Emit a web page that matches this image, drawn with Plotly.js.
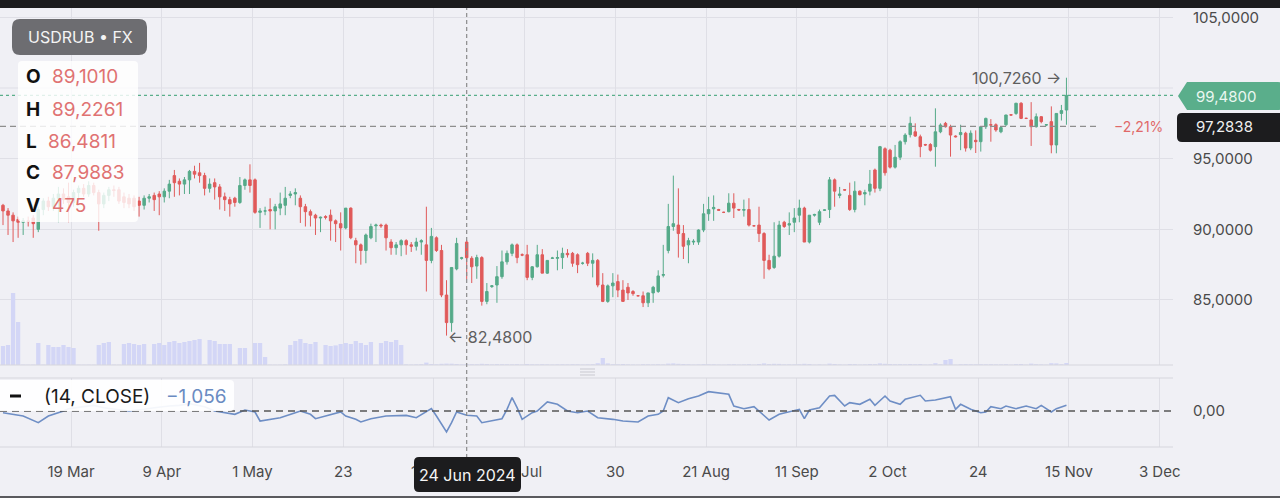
<!DOCTYPE html>
<html>
<head>
<meta charset="utf-8">
<script src="https://cdn.plot.ly/plotly-3.0.1.min.js"></script>
<style>
html,body{margin:0;padding:0;background:#f0f0f5;}
#chart{width:1280px;height:498px;}
</style>
</head>
<body>
<div id="chart"></div>
<script>
// ---- DATA ----
const open = [91.7,91.3,91.0,90.7,90.5,90.6,90.8,90.0,91.4,92.0,91.6,92.2,92.5,92.3,91.9,92.6,92.9,92.5,93.1,92.6,
91.8,92.4,92.8,92.8,92.3,92.2,92.2,92.0,91.7,92.2,92.4,92.5,92.3,92.7,93.8,93.4,93.2,93.5,94.1,94.0,
93.8,92.9,93.3,93.0,92.3,92.1,92.2,91.9,93.1,93.5,93.5,91.2,91.3,91.4,91.3,91.5,91.7,92.4,92.5,92.2,
91.6,91.25,91.0,90.8,90.9,91.0,90.6,90.4,90.1,91.5,89.2,88.9,88.5,89.4,90.25,90.3,90.3,89.1,88.7,88.9,
89.2,88.9,88.8,89.1,88.9,87.8,89.4,88.5,85.35,83.4,87.2,87.95,89.101,87.95,87.4,88.0,84.9,85.95,86.06,86.65,
87.7,88.3,88.9,88.2,88.2,86.6,87.35,88.2,86.9,87.95,87.95,88.0,88.3,88.3,88.2,87.6,88.3,87.6,87.8,86.06,
84.9,86.0,86.3,85.7,85.9,85.6,85.3,85.3,84.8,85.5,85.6,86.75,88.5,90.2,90.3,89.7,88.9,89.1,89.1,89.95,
91.1,91.45,91.4,91.2,91.25,91.85,91.4,91.35,91.4,90.25,90.3,89.7,87.8,87.3,88.1,90.5,90.3,90.5,91.0,91.5,
89.1,91.0,90.5,91.35,91.4,93.5,92.4,92.8,92.4,91.4,92.7,92.5,92.7,94.2,92.9,95.7,95.6,94.4,95.1,96.2,
96.7,96.9,96.55,96.0,96.0,95.85,96.9,97.5,97.26,96.6,96.7,96.8,95.75,96.3,96.2,97.26,97.4,97.4,96.9,97.4,
98.1,98.2,98.92,97.85,97.74,97.26,97.97,97.38,97.62,95.97,98.2,98.44];
const high = [91.8,91.5,91.2,90.9,90.8,90.9,91.0,91.6,92.2,92.3,92.5,93.0,92.9,93.3,92.8,93.1,93.2,93.4,93.3,92.8,
92.6,93.0,93.1,93.0,92.6,92.5,92.4,92.3,92.4,92.5,92.6,92.7,92.9,93.5,94.2,93.6,93.7,94.2,94.5,94.7,
94.0,93.6,93.6,93.2,92.6,92.3,92.3,93.7,93.6,94.6,93.6,91.5,91.6,92.2,91.8,92.6,93.0,92.7,92.9,92.4,
91.8,91.4,91.1,90.9,91.0,91.4,90.7,91.2,91.5,91.55,89.4,89.0,89.7,90.4,90.4,90.4,90.4,89.3,89.1,89.3,
89.3,89.1,89.4,89.3,91.6,90.1,89.5,88.9,86.4,87.3,89.4,88.05,89.2261,88.1,88.2,88.1,86.2,86.06,87.4,88.5,
88.5,89.0,89.0,88.3,88.9,87.4,88.9,88.6,87.8,88.05,88.5,88.7,88.6,88.4,88.3,87.7,88.4,88.3,87.9,86.9,
86.1,86.9,86.8,86.4,86.2,85.7,85.35,85.6,85.5,86.0,87.1,88.9,91.8,93.8,92.9,90.3,89.4,89.3,90.0,91.8,
92.3,92.4,91.45,91.25,92.55,92.55,91.45,92.1,92.2,90.3,91.6,89.8,88.2,90.5,90.6,90.6,91.2,91.5,92.1,91.6,
91.0,91.1,91.4,91.4,93.7,93.6,93.0,92.85,93.3,93.4,92.75,92.8,94.2,94.3,95.9,95.8,95.7,95.97,96.3,96.8,
97.97,97.5,96.7,96.05,96.1,98.56,97.5,97.6,97.4,96.65,97.4,96.9,97.0,97.0,97.3,97.9,97.8,97.5,97.3,98.1,
98.15,98.95,99.0,97.9,99.0,98.2,98.0,97.45,98.7,98.2,98.8,100.726];
const low = [90.3,89.6,89.1,89.4,89.6,90.2,89.4,89.8,91.0,91.3,91.3,90.5,91.8,90.5,91.6,92.2,92.3,92.3,92.4,89.9,
91.5,92.0,92.3,91.8,91.5,91.5,91.3,90.9,91.4,91.9,91.3,91.0,91.9,92.2,92.3,92.4,92.5,92.5,93.6,93.3,
92.4,92.6,92.1,91.4,91.3,90.9,91.6,91.8,92.8,92.6,91.1,90.1,91.0,90.0,90.0,91.0,91.0,92.2,91.7,90.45,
90.2,90.2,89.6,89.8,90.7,89.2,89.1,88.5,90.0,89.3,87.6,87.5,87.6,89.3,89.1,90.1,88.5,88.2,88.2,88.1,
88.2,88.4,88.5,88.2,85.6,87.6,88.4,85.2,82.48,82.75,87.1,87.85,86.4811,86.2,86.5,84.6,84.7,85.85,84.8,86.5,
87.5,88.1,87.6,88.1,86.4,86.4,87.3,86.9,86.85,87.9,87.1,87.2,88.0,87.35,86.9,87.5,87.4,86.6,85.9,84.85,
84.8,85.2,85.2,84.9,85.0,85.3,85.25,84.5,84.5,84.8,85.5,86.6,88.3,89.9,88.0,87.9,87.6,88.9,88.9,89.8,
90.6,90.6,91.3,91.15,91.2,90.8,91.3,90.9,90.2,90.2,89.1,86.5,87.1,87.2,88.0,90.1,89.6,89.8,90.5,89.1,
89.0,90.9,90.3,91.3,90.8,91.6,92.2,92.75,91.3,91.2,92.4,91.7,92.4,92.6,92.7,93.8,94.3,94.3,94.9,96.0,
96.5,96.55,95.1,95.9,95.5,94.43,96.8,97.2,95.14,96.5,95.6,95.5,95.6,95.4,95.5,97.1,96.2,96.9,96.8,97.3,
98.05,98.1,97.8,97.8,95.9,97.2,97.5,97.3,95.38,95.38,97.7,97.4];
const close = [91.3,91.0,90.6,90.5,90.6,90.55,90.4,91.4,92.0,91.6,92.2,92.5,92.1,91.9,92.6,92.9,92.5,93.1,92.6,91.8,
92.4,92.8,92.75,92.0,91.9,91.8,91.6,91.7,92.2,92.3,92.1,92.3,92.7,93.2,93.3,93.2,93.5,94.1,93.9,93.8,
92.9,93.2,93.0,92.3,92.1,91.8,91.9,93.1,93.5,93.1,91.2,91.3,91.3,91.3,91.6,91.8,92.2,92.5,92.6,91.6,
91.25,91.0,90.8,90.85,90.85,90.6,90.4,90.1,91.5,89.4,88.9,88.5,89.6,90.2,90.3,90.25,89.4,88.7,88.9,89.2,
88.9,88.8,89.1,89.2,87.8,89.5,88.5,85.35,83.4,87.3,89.0,87.98,87.9883,87.35,88.0,84.9,85.6,86.0,86.65,87.7,
88.3,88.9,88.0,88.18,86.6,87.35,88.2,86.9,87.8,87.97,88.0,88.3,88.2,87.6,87.5,87.6,87.6,87.8,86.06,84.9,
86.0,86.2,85.7,84.9,85.5,85.45,85.3,84.8,85.5,85.9,86.7,86.8,90.2,90.4,89.7,88.8,89.2,89.15,89.95,91.1,
91.4,91.55,91.35,91.2,91.85,91.5,91.37,91.4,90.3,90.25,89.7,87.8,87.2,88.1,90.3,90.2,90.4,90.8,91.5,89.1,
91.0,91.05,91.25,91.37,93.5,92.7,92.5,92.78,91.4,92.7,92.45,92.6,93.2,92.9,95.85,94.0,94.4,95.1,96.2,96.67,
97.5,96.6,95.85,95.97,95.6,96.9,97.38,97.26,96.67,96.55,96.85,95.75,96.8,96.2,97.26,97.85,97.38,97.03,97.2,98.09,
98.09,98.92,97.85,97.85,97.26,97.97,97.62,97.4,95.97,98.2,98.4,99.48];
const volume = [9500,10000,36000,21500,200,150,200,11000,200,10000,9000,9000,10000,9000,8500,200,150,200,150,10000,
11000,11500,200,150,10500,11000,10500,10000,10500,200,10500,11000,10000,11500,12000,11000,11500,12000,12500,13000,
300,12500,12000,10500,10500,10500,200,8500,8500,200,11000,11000,4000,200,150,200,300,10000,12000,13000,
11000,10500,11500,200,10000,9500,9800,10500,11000,10500,12000,11000,10000,11500,200,11000,12000,11500,12500,10000,
300,250,300,400,1200,500,350,600,700,650,500,300,475,400,350,600,500,300,450,400,
350,300,400,250,500,350,300,400,300,250,300,350,300,400,350,250,300,400,900,3500,
800,400,350,500,300,250,200,400,350,300,400,300,700,800,600,500,400,250,300,450,
400,350,250,200,350,400,250,300,450,200,500,800,500,600,550,300,350,300,400,600,
500,200,300,200,700,500,300,200,500,450,250,300,500,450,800,600,500,400,450,350,
500,400,500,250,300,900,400,2500,3000,200,400,450,400,350,400,350,400,300,300,400,
200,450,500,200,700,400,300,200,900,800,400,1000];
// oscillator (14, CLOSE): bar index and value
const oscBar = [0,2,4,7,9,12,13,16,18,20,23,25,28,30,33,35,37,40,42,45,46,48,50,51,53,55,58,59,61,62,64,67,68,70,71,73,76,78,80,82,84,85,86,88,89,90,92,94,95,97,99,100,101,102,103,105,106,108,110,112,114,116,118,121,123,126,128,130,131,132,134,136,138,140,142,144,145,147,149,151,152,154,156,158,159,160,162,164,165,167,168,170,172,173,175,176,178,179,182,183,185,188,189,190,192,194,195,196,198,199,201,203,205,206,208,209,211];
const oscVal = [-0.41,-0.81,-1.22,-2.85,-1.22,0,0.57,1.06,1.38,0.81,0.41,0,0.41,0.81,1.22,1.38,1.79,1.06,0,-0.57,-0.81,0.24,-0.24,-2.44,-2.03,-1.63,-0.41,0,-0.81,-1.87,-1.22,-0.24,-1.22,-2.03,-2.68,-1.87,-1.22,-1.06,-1.06,-1.63,-0.24,0.57,-1.22,-5.12,-2.85,-0.24,-1.056,-1.22,-2.85,-2.44,-1.87,0.41,3.25,0.81,-2.03,-0.41,0,2.2,1.63,0,-0.41,0,-1.63,-2.03,-2.44,-2.68,-1.22,-0.81,0,3.25,2.03,3.0,3.66,4.72,4.31,4.07,1.22,0.57,1.06,-1.22,-2.2,-0.81,-0.24,0.41,-1.87,0.24,0.81,3.66,3.82,1.22,2.03,1.63,2.85,1.38,3.66,2.44,1.63,2.85,3.82,2.44,2.68,3.5,0.41,1.63,0.41,-0.41,-0.24,1.06,0.57,1.22,0.57,1.22,0.57,1.38,-0.24,0.57,1.38];
const tickBars = [13.5,31.5,49.5,67.5,85.5,103.5,121.5,139.5,157.5,175.5,193.5,211.5,229.5];
const tickLabels = ['19 Mar','9 Apr','1 May','23','13 Jun','4 Jul','30','21 Aug','11 Sep','2 Oct','24','15 Nov','3 Dec'];
const priceTicks = [85,90,95,105];      // 100 label is hidden behind the last-price tag
const priceGridExtra = [100];
const lastPrice = 99.48, refPrice = 97.2838, changeText = '−2,21%';
const hiText = '100,7260', loText = '82,4800';
const lastText = '99,4800', refText = '97,2838';
const crossBar = 92, crossLabel = '24 Jun 2024';
const ohlcLetters = ['O','H','L','C','V'];
const ohlcValues = ['89,1010','89,2261','86,4811','87,9883','475'];
const indName = '(14, CLOSE)', indValue = '−1,056';
const symbolText = 'USDRUB • FX';

// ---- LAYOUT GEOMETRY ----
const W=1280,H=498,ML=0,MR=107,MT=8,MB=51;
const PW=W-ML-MR, PH=H-MT-MB;
const xmin=-0.595, xmax=232.14;
const fx = x => (x-ML)/PW;
const fy = y => (H-MB-y)/PH;
const fbar = b => (b-xmin)/(xmax-xmin);
function rr(x0,y0,x1,y1,r){
  const P=(x,y)=>fx(x).toFixed(5)+','+fy(y).toFixed(5);
  return 'M'+P(x0+r,y0)+' L'+P(x1-r,y0)+' Q'+P(x1,y0)+' '+P(x1,y0+r)+' L'+P(x1,y1-r)+' Q'+P(x1,y1)+' '+P(x1-r,y1)+
    ' L'+P(x0+r,y1)+' Q'+P(x0,y1)+' '+P(x0,y1-r)+' L'+P(x0,y0+r)+' Q'+P(x0,y0)+' '+P(x0+r,y0)+' Z';
}
function tag(x0,y0,x1,y1,r,tip){
  const P=(x,y)=>fx(x).toFixed(5)+','+fy(y).toFixed(5);
  const ym=(y0+y1)/2;
  return 'M'+P(tip,ym)+' L'+P(x0,y0)+' L'+P(x1-r,y0)+' Q'+P(x1,y0)+' '+P(x1,y0+r)+' L'+P(x1,y1-r)+' Q'+P(x1,y1)+' '+P(x1-r,y1)+' L'+P(x0,y1)+' Z';
}

const idx = open.map((_,i)=>i);
const GREEN='#55aa89', RED='#e05a5a', GRID='#dfdfe6';
const FONT='Inter, "Noto Sans", sans-serif';

const traces = [
  {type:'bar', x:idx, y:volume, xaxis:'x', yaxis:'y3', marker:{color:'#d3d6f6', line:{width:0}}, width:0.85, hoverinfo:'skip'},
  {type:'candlestick', x:idx, open:open, high:high, low:low, close:close, xaxis:'x', yaxis:'y',
   increasing:{line:{color:GREEN,width:1}, fillcolor:GREEN},
   decreasing:{line:{color:RED,width:1}, fillcolor:RED},
   whiskerwidth:0, hoverinfo:'skip'},
  {type:'scatter', mode:'lines', x:oscBar, y:oscVal, xaxis:'x2', yaxis:'y2', line:{color:'#6e8ec5', width:1.6}, hoverinfo:'skip'}
];

const shapes = [];
priceGridExtra.forEach(v=>shapes.push({type:'line', layer:'below', xref:'paper', yref:'y', x0:0, x1:1, y0:v, y1:v, line:{color:GRID, width:1}}));
shapes.push(
  // pane borders
  {type:'line', xref:'paper', yref:'paper', x0:0, x1:1, y0:fy(365), y1:fy(365), line:{color:'#d6d6dd', width:1}},
  {type:'line', xref:'paper', yref:'paper', x0:0, x1:1, y0:fy(378), y1:fy(378), line:{color:'#d6d6dd', width:1}},
  {type:'line', xref:'paper', yref:'paper', x0:0, x1:1, y0:fy(447), y1:fy(447), line:{color:'#d6d6dd', width:1}},
  // separator handle
  {type:'line', xref:'paper', yref:'paper', x0:fx(580), x1:fx(595), y0:fy(369), y1:fy(369), line:{color:'#c9c9d0', width:1}},
  {type:'line', xref:'paper', yref:'paper', x0:fx(580), x1:fx(595), y0:fy(372), y1:fy(372), line:{color:'#c9c9d0', width:1}},
  {type:'line', xref:'paper', yref:'paper', x0:fx(580), x1:fx(595), y0:fy(375), y1:fy(375), line:{color:'#c9c9d0', width:1}},
  // zero line lower pane
  {type:'line', xref:'paper', yref:'y2', x0:0, x1:1, y0:0, y1:0, line:{color:'#555555', width:1.5, dash:'7px,5px'}},
  // price lines
  {type:'line', xref:'paper', yref:'y', x0:0, x1:1, y0:lastPrice, y1:lastPrice, line:{color:'#5aae8b', width:1.1, dash:'3px,3px'}},
  {type:'line', xref:'paper', yref:'y', x0:0, x1:fx(1100), y0:refPrice, y1:refPrice, line:{color:'#8e8e8e', width:1.3, dash:'6px,4px'}},
  // crosshair
  {type:'line', xref:'paper', yref:'paper', x0:fbar(crossBar), x1:fbar(crossBar), y0:fy(458), y1:1, line:{color:'#8a8a8a', width:1.2, dash:'4px,3px'}},
  // top band & bottom line
  {type:'rect', xref:'paper', yref:'paper', x0:fx(-2), x1:fx(1282), y0:fy(8), y1:fy(-2), fillcolor:'#1c1c1e', line:{width:0}},
  {type:'rect', xref:'paper', yref:'paper', x0:fx(-2), x1:fx(1282), y0:fy(499), y1:fy(496), fillcolor:'#5a5a5e', line:{width:0}},
  // OHLC box
  {type:'path', xref:'paper', yref:'paper', path:rr(18,61,138,222,4), fillcolor:'rgba(255,255,255,0.82)', line:{width:0}},
  // symbol box
  {type:'path', xref:'paper', yref:'paper', path:rr(12,19,147,55,8), fillcolor:'#6d6d71', line:{width:0}},
  // indicator legend box
  {type:'path', xref:'paper', yref:'paper', path:rr(-6,380,234,411,4), fillcolor:'rgba(255,255,255,0.92)', line:{width:0}},
  {type:'line', xref:'paper', yref:'paper', x0:fx(10), x1:fx(21), y0:fy(396), y1:fy(396), line:{color:'#111111', width:3}},
  // price tags
  {type:'path', xref:'paper', yref:'paper', path:tag(1187,82,1283,110,5,1178), fillcolor:'#5aae8b', line:{width:0}},
  {type:'path', xref:'paper', yref:'paper', path:rr(1177,113,1286,142,5), fillcolor:'#1c1c1e', line:{width:0}},
  // crosshair date box
  {type:'path', xref:'paper', yref:'paper', path:rr(414,457,521,492,5), fillcolor:'#1c1c1e', line:{width:0}}
);

const ann = [];
function A(text,x,y,opt){ann.push(Object.assign({text:text, xref:'paper', yref:'paper', x:fx(x), y:fy(y), showarrow:false, xanchor:'left', yanchor:'middle', font:{family:FONT, size:15, color:'#4a4a4a'}}, opt||{}));}
A(symbolText,80,37,{xanchor:'center', font:{family:FONT,size:16,color:'#f4f4f4'}});
const rowsY=[77,109,141,173,205];
ohlcLetters.forEach((l,i)=>{
  A('<b>'+l+'</b>',24,rowsY[i],{font:{family:FONT,size:19,color:'#111111'}});
  A(ohlcValues[i], l==='L'?46:50, rowsY[i],{font:{family:FONT,size:19,color:'#e07272'}});
});
A(indName,42,396,{font:{family:FONT,size:19,color:'#1a1a1a'}});
A(indValue,164,396,{font:{family:FONT,size:19,color:'#6a8bc2'}});
A(hiText+' →',1063,78,{xanchor:'right', font:{family:FONT,size:16,color:'#5e5e5e'}});
A('← '+loText,446,337,{font:{family:FONT,size:16,color:'#5e5e5e'}});
A(changeText,1112,127,{font:{family:FONT,size:14,color:'#e06868'}});
A(lastText,1194,96,{font:{family:FONT,size:15,color:'#eaf7f1'}});
A(refText,1194,127,{font:{family:FONT,size:15,color:'#efefef'}});
A(crossLabel,467.5,474.5,{xanchor:'center', font:{family:FONT,size:16,color:'#f5f5f5'}});

const layout = {
  width:W, height:H, margin:{l:ML,r:MR,t:MT,b:MB}, paper_bgcolor:'#f0f0f5', plot_bgcolor:'#f0f0f5',
  separators:',.', showlegend:false, hovermode:false, font:{family:FONT, color:'#4a4a4a', size:15},
  xaxis:{domain:[0,1], anchor:'y', range:[xmin,xmax], tickvals:tickBars, showticklabels:false, showgrid:true, gridcolor:GRID, gridwidth:1, zeroline:false, showline:false, ticks:'', rangeslider:{visible:false}, fixedrange:true},
  xaxis2:{domain:[0,1], anchor:'y2', range:[xmin,xmax], tickvals:tickBars, ticktext:tickLabels, showgrid:true, gridcolor:GRID, gridwidth:1, zeroline:false, showline:false, ticks:'', ticklabelstandoff:14, tickfont:{family:FONT,size:15,color:'#4a4a4a'}, fixedrange:true},
  yaxis:{domain:[fy(365),1], anchor:'x', side:'right', range:[80.4,105.66], tickvals:priceTicks, tickformat:'.4f', showgrid:true, gridcolor:GRID, zeroline:false, showline:false, ticks:'', ticklabelstandoff:19, tickfont:{family:FONT,size:15,color:'#4a4a4a'}, fixedrange:true},
  yaxis3:{overlaying:'y', anchor:'x', range:[0,178500], visible:false, fixedrange:true},
  yaxis2:{domain:[0,fy(378)], anchor:'x2', side:'right', range:[-8.78,8.05], tickvals:[0], tickformat:'.2f', showgrid:false, zeroline:false, showline:false, ticks:'', ticklabelstandoff:19, tickfont:{family:FONT,size:15,color:'#4a4a4a'}, fixedrange:true},
  shapes:shapes, annotations:ann
};
Plotly.newPlot('chart', traces, layout, {staticPlot:true, displayModeBar:false});
</script>
</body>
</html>
